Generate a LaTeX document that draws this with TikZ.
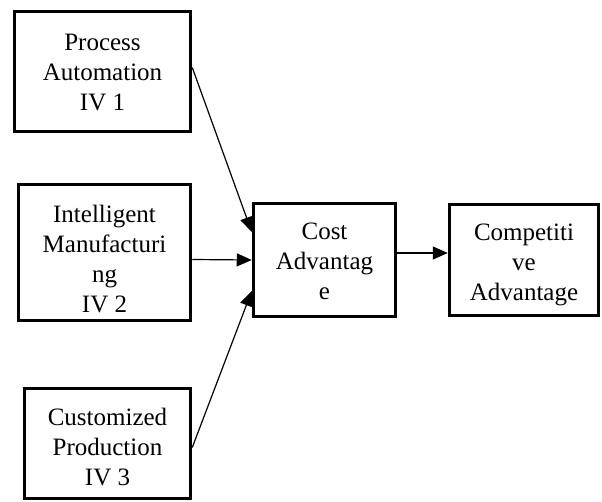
\documentclass[tikz,border=0pt]{standalone}
\usepackage{fontspec}
\setmainfont{Liberation Serif}
\usetikzlibrary{arrows.meta}
\begin{document}
\begin{tikzpicture}[x=1pt,y=-1pt,
  box/.style={draw, line width=3.5pt, inner sep=0pt},
  txt/.style={align=center, inner sep=0pt, font=\fontsize{25}{30}\selectfont},
  conn/.style={line width=1.2pt, -{Triangle[length=15pt,width=13pt]}}]
\useasboundingbox (0,0) rectangle (602,501);
\node[box, minimum width=176pt, minimum height=120pt] (pa) at (102.5,71.5) {};
\node[box, minimum width=172pt, minimum height=136pt] (im) at (104.5,252.5) {};
\node[box, minimum width=166pt, minimum height=110pt] (cp) at (107.5,443.5) {};
\node[box, minimum width=142pt, minimum height=113pt] (ca) at (324.5,260) {};
\node[box, minimum width=149pt, minimum height=111pt] (comp) at (524,260) {};
\node[txt] (pat) at ([yshift=-1pt]pa.center) {Process\\Automation\\IV 1};
\node[txt] (imt) at ([yshift=-7pt]im.center) {Intelligent\\Manufacturi\\ng\\IV 2};
\node[txt] (cpt) at ([yshift=-4pt]cp.center) {Customized\\Production\\IV 3};
\node[txt] (cat) at ([yshift=-1pt]ca.center) {Cost\\Advantag\\e};
\node[txt] (compt) at ([yshift=-5pt]comp.center) {Competiti\\ve\\Advantage};
\draw[conn] ([yshift=4pt]pa.east) -- ([yshift=28pt]ca.west);
\draw[conn] ([yshift=-7pt]im.east) -- (ca.west);
\draw[conn] ([yshift=-4pt]cp.east) -- ([yshift=-31pt]ca.west);
\draw[conn] ([yshift=7pt]ca.east) -- ([yshift=7pt]comp.west);
\end{tikzpicture}
\end{document}
